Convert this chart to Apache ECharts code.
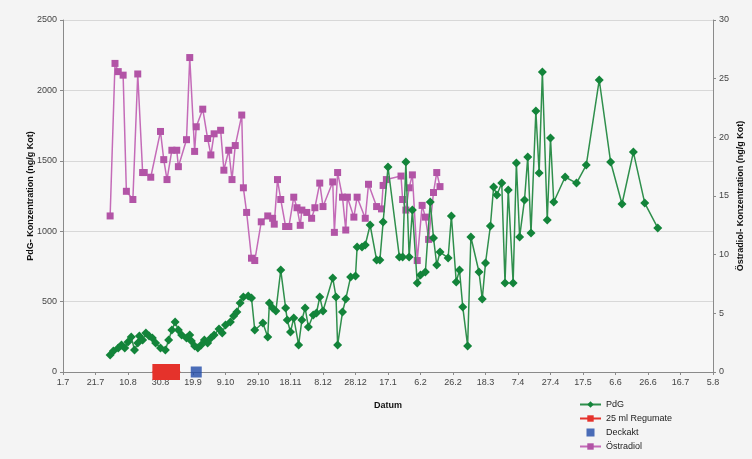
<!DOCTYPE html>
<html>
<head>
<meta charset="utf-8">
<script src="https://cdn.jsdelivr.net/npm/echarts@6/dist/echarts.min.js"></script>
<style>
  html, body { margin: 0; padding: 0; background: #f4f4f4; }
  #chart { width: 752px; height: 459px; }
</style>
</head>
<body>
<div id="chart"></div>
<script>
// Days counted from 1 July; tick labels every 20 days
const tickLabels = ['1.7', '21.7', '10.8', '30.8', '19.9', '9.10', '29.10', '18.11', '8.12', '28.12',
  '17.1', '6.2', '26.2', '18.3', '7.4', '27.4', '17.5', '6.6', '26.6', '16.7', '5.8'];

// PdG (ng/g Kot)
const pdgDays = [29, 31, 34, 36, 38, 40, 42, 44, 46, 47, 49, 51, 53, 55, 57, 60, 63, 65, 67, 69,
  71, 73, 76, 78, 79, 81, 83, 85, 87, 89, 91, 93, 96, 98, 100, 103, 105, 107, 109, 111,
  114, 116, 118, 123, 126, 127, 129, 131, 134, 137, 138, 140, 142, 145, 147, 149, 151, 154, 156, 158,
  160, 166, 168, 169, 172, 174, 177, 180, 181, 184, 186, 189, 193, 195, 197, 200, 207, 209, 211, 213,
  215, 218, 220, 223, 226, 228, 230, 232, 237, 239, 242, 244, 246, 249, 251, 256, 258, 260, 263, 265,
  267, 270, 272, 274, 277, 279, 281, 284, 286, 288, 291, 293, 295, 298, 300, 302, 309, 316, 322, 330,
  337, 344, 351, 358, 366];
const pdgValues = [121, 149, 170, 192, 170, 213, 249, 156, 206, 256, 227, 277, 256, 241, 206, 170, 156, 227, 298, 355,
  298, 263, 241, 263, 220, 185, 170, 192, 227, 206, 241, 263, 305, 277, 334, 355, 398, 426, 490, 533,
  540, 526, 298, 348, 249, 490, 455, 433, 724, 455, 369, 284, 384, 192, 369, 455, 320, 405, 419, 533,
  433, 668, 533, 192, 426, 518, 675, 682, 888, 888, 902, 1044, 795, 795, 1065, 1456, 817, 817, 1491, 817,
  1151, 632, 689, 710, 1207, 952, 760, 852, 810, 1108, 639, 724, 462, 185, 959, 710, 518, 774, 1037, 1314,
  1257, 1342, 632, 1293, 632, 1484, 959, 1222, 1527, 987, 1854, 1413, 2131, 1080, 1662, 1207, 1385, 1342, 1470, 2074,
  1491, 1193, 1562, 1200, 1023];

// Östradiol (ng/g Kot)
const e2Days = [29, 32, 34, 37, 39, 43, 46, 49, 50, 54, 60, 62, 64, 67, 70, 71, 76, 78, 81, 82,
  86, 89, 91, 93, 97, 99, 102, 104, 106, 110, 111, 113, 116, 118, 122, 126, 129, 130, 132, 134,
  137, 139, 142, 144, 146, 147, 150, 153, 155, 158, 160, 166, 167, 169, 172, 174, 175, 179, 181, 186,
  188, 193, 196, 197, 199, 208, 209, 211, 213, 215, 218, 221, 223, 225, 228, 230, 232];
const e2Values = [13.3, 26.3, 25.6, 25.3, 15.4, 14.7, 25.4, 17.0, 17.0, 16.6, 20.5, 18.1, 16.4, 18.9, 18.9, 17.5, 19.8, 26.8, 18.8, 20.9,
  22.4, 19.9, 18.5, 20.3, 20.6, 17.2, 18.9, 16.4, 19.3, 21.9, 15.7, 13.6, 9.7, 9.5, 12.8, 13.3, 13.1, 12.6, 16.4, 14.7,
  12.4, 12.4, 14.9, 14.0, 12.5, 13.8, 13.6, 13.1, 14.0, 16.1, 14.1, 16.2, 11.9, 17.0, 14.9, 12.1, 14.9, 13.2, 14.9, 13.1,
  16.0, 14.1, 13.9, 15.9, 16.4, 16.7, 14.7, 13.8, 15.7, 16.8, 9.5, 14.2, 13.2, 11.3, 15.3, 17.0, 15.8];

// Treatment periods
const regumateDays = [55, 72];
const deckaktDays = [82];

const pair = (xs, ys) => xs.map((x, i) => [x, ys[i]]);

const labelFont = { fontFamily: 'Liberation Sans, Arial, sans-serif', fontSize: 9, color: '#444' };
const nameFont = { fontFamily: 'Liberation Sans, Arial, sans-serif', fontSize: 9, fontWeight: 'bold', color: '#111' };

const chart = echarts.init(document.getElementById('chart'));
chart.setOption({
  backgroundColor: '#f4f4f4',
  animation: false,
  grid: {
    left: 63, right: 39, top: 20, bottom: 87, outerBoundsMode: 'none',
    show: true, backgroundColor: '#f7f7f7', borderWidth: 0
  },
  xAxis: {
    type: 'value', min: 0, max: 400, interval: 20,
    name: 'Datum', nameLocation: 'middle', nameGap: 29, nameMoveOverlap: false,
    nameTextStyle: nameFont,
    axisLine: { lineStyle: { color: '#8a8a8a', width: 1 } },
    axisTick: { show: true, length: 3, lineStyle: { color: '#8a8a8a' } },
    axisLabel: Object.assign({}, labelFont, { margin: 6, formatter: v => tickLabels[Math.round(v / 20)] }),
    splitLine: { show: false }
  },
  yAxis: [
    {
      type: 'value', min: 0, max: 2500, interval: 500, position: 'left',
      name: 'PdG- Konzentration (ng/g Kot)', nameLocation: 'middle', nameGap: 28, nameRotate: 90,
      nameMoveOverlap: false,
      nameTextStyle: nameFont,
      axisLine: { show: true, lineStyle: { color: '#8a8a8a' } },
      axisTick: { show: true, length: 3, lineStyle: { color: '#8a8a8a' } },
      axisLabel: Object.assign({}, labelFont, { margin: 6, formatter: v => String(v) }),
      splitLine: { show: true, lineStyle: { color: '#d8d8d8', width: 1 } }
    },
    {
      type: 'value', min: 0, max: 30, interval: 5, position: 'right',
      name: 'Östradiol- Konzentration (ng/g Kot)', nameLocation: 'middle', nameGap: 23, nameRotate: 90,
      nameMoveOverlap: false,
      nameTextStyle: nameFont,
      axisLine: { show: true, lineStyle: { color: '#8a8a8a' } },
      axisTick: { show: true, length: 3, lineStyle: { color: '#8a8a8a' } },
      axisLabel: Object.assign({}, labelFont, { margin: 6 }),
      splitLine: { show: false }
    }
  ],
  legend: {
    orient: 'vertical', left: 574, top: 395, itemGap: 5, itemWidth: 21, itemHeight: 8,
    textStyle: { fontFamily: 'Liberation Sans, Arial, sans-serif', fontSize: 9, color: '#222' },
    data: [
      { name: 'PdG' },
      { name: '25 ml Regumate' },
      { name: 'Deckakt', icon: 'path://M0,0h8v8h-8z' },
      { name: 'Östradiol' }
    ]
  },
  series: [
    {
      name: 'Östradiol', type: 'line', yAxisIndex: 1,
      data: pair(e2Days, e2Values),
      symbol: 'rect', symbolSize: 7,
      lineStyle: { color: '#c46bb8', width: 1.5 },
      itemStyle: { color: '#b254a6' },
      z: 2
    },
    {
      name: 'PdG', type: 'line', yAxisIndex: 0,
      data: pair(pdgDays, pdgValues),
      symbol: 'diamond', symbolSize: 9,
      lineStyle: { color: '#2f8f4c', width: 1.5 },
      itemStyle: { color: '#13843a' },
      z: 3
    },
    {
      name: '25 ml Regumate', type: 'line', yAxisIndex: 0,
      data: regumateDays.map(d => [d, 0]),
      symbol: 'rect', symbolSize: 1,
      lineStyle: { color: '#e5322b', width: 16, cap: 'butt' },
      itemStyle: { color: '#e5322b' },
      z: 4
    },
    {
      name: 'Deckakt', type: 'scatter', yAxisIndex: 0,
      data: deckaktDays.map(d => [d, 0]),
      symbol: 'rect', symbolSize: 11,
      itemStyle: { color: '#1f4aa8' },
      z: 4
    }
  ]
});
</script>
</body>
</html>
